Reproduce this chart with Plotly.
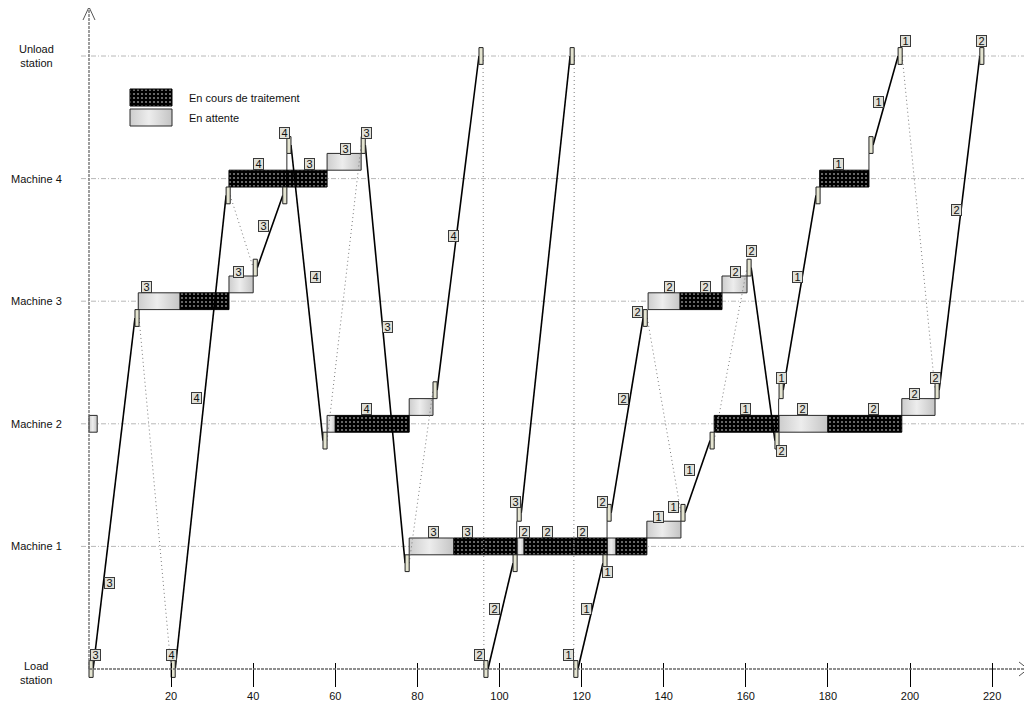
import plotly.graph_objects as go

# station levels: 0 = load, 1..4 = machines, 5 = unload
stations = ["Load<br>station", "Machine 1", "Machine 2", "Machine 3", "Machine 4", "Unload<br>station"]
tick_vals = [20, 40, 60, 80, 100, 120, 140, 160, 180, 200, 220]

# processing operations (black)
proc_job = [3, 4, 3, 4, 3, 2, 1, 2, 1, 1, 2]
proc_lvl = [3, 4, 4, 2, 1, 1, 1, 3, 2, 4, 2]
proc_start = [22.2, 34.1, 48.2, 60.0, 88.9, 106.0, 128.4, 144.0, 152.3, 178.0, 180.0]
proc_end = [34.1, 48.2, 58.0, 78.0, 104.2, 126.2, 135.9, 154.2, 168.0, 190.0, 198.0]

# waiting (grey), row 1 = in front of the machine, row 2 = finished, waiting for the AGV
wait_lvl = [2, 3, 3, 4, 4, 2, 2, 1, 1, 1, 1, 1, 1, 3, 3, 2, 2, 4, 2]
wait_row = [1, 1, 2, 2, 2, 1, 2, 1, 2, 1, 2, 1, 2, 1, 2, 2, 1, 2, 2]
wait_start = [0.0, 12.0, 34.1, 48.2, 58.0, 58.0, 78.0, 78.0, 104.2, 104.3, 126.2, 126.2, 135.9, 136.2, 154.2, 168.0, 168.1, 190.0, 198.0]
wait_end = [2.0, 22.2, 40.0, 48.2, 66.3, 60.0, 83.8, 88.9, 104.2, 106.0, 126.2, 128.4, 144.2, 144.0, 160.3, 168.0, 180.0, 190.0, 206.1]

# AGV moves: job, from, to, start of pick-up, start of drop-off
move_job = [3, 4, 3, 4, 3, 4, 2, 3, 1, 2, 1, 2, 1, 1, 2]
move_from = [0, 0, 3, 4, 4, 2, 0, 1, 0, 1, 1, 3, 2, 4, 2]
move_to = [3, 4, 4, 2, 1, 5, 1, 5, 1, 3, 2, 2, 4, 5, 5]
move_pick = [0.0, 20.0, 40.0, 48.2, 66.3, 83.8, 96.2, 104.3, 118.1, 126.2, 144.2, 160.3, 168.1, 190.0, 206.1]
move_drop = [11.2, 33.4, 47.2, 57.0, 77.0, 95.0, 103.3, 117.2, 125.2, 135.0, 151.3, 167.1, 177.1, 197.1, 217.0]

# job number tags
label_job = [3, 3, 3, 3, 3, 4, 4, 4, 4, 3, 3, 3, 4, 3, 4, 4, 3, 3, 3,
             2, 2, 2, 2, 2, 2, 2, 2, 2, 2, 2, 2, 2, 2, 2, 2, 2, 2, 2,
             1, 1, 1, 1, 1, 1, 1, 1, 1, 1, 1, 1]
label_t = [1.5, 5.1, 13.9, 36.3, 42.6, 20.0, 26.1, 41.4, 47.7, 53.8, 62.6, 67.5, 55.1, 72.6, 67.5, 88.9, 83.8, 92.3, 104.0,
           95.2, 98.7, 106.2, 111.6, 120.1, 125.0, 130.1, 133.7, 141.3, 150.1, 157.6, 161.3, 168.8, 173.7, 191.2, 201.2, 206.3, 211.4, 217.5,
           116.7, 121.3, 126.4, 138.8, 142.5, 146.4, 160.0, 168.8, 172.5, 182.5, 192.4, 198.8]
label_lvl = [0.114, 0.70, 3.116, 3.238, 3.613, 0.114, 2.21, 4.12, 4.372, 4.12, 4.24, 4.372, 3.197, 2.79, 2.12, 3.53, 1.12, 1.12, 1.36,
             0.114, 0.49, 1.12, 1.12, 1.12, 1.36, 2.20, 2.91, 3.116, 3.116, 3.238, 3.41, 1.778, 2.12, 2.12, 2.243, 2.37, 3.744, 5.12,
             0.114, 0.49, 0.79, 1.24, 1.32, 1.62, 2.12, 2.37, 3.197, 4.12, 4.625, 5.12]

H = 0.137  # band height in level units
FONT = "Liberation Sans, Arial, sans-serif"


# page pixel -> data (the figure sits 8px in from the page corner)
def tx(px):
    return (px - 89) / 4.105


def ly(py):
    return (669 - py) / 122.6


def box(x0, x1, y0, y1):
    return [x0, x1, x1, x0, x0, None], [y0, y0, y1, y1, y0, None]


def pick_band(lvl):
    if lvl in (0, 5):
        return lvl - H / 2, lvl + H / 2
    return lvl + 1.5 * H, lvl + 2.5 * H


def drop_band(lvl):
    if lvl in (0, 5):
        return lvl - H / 2, lvl + H / 2
    return lvl - 1.5 * H, lvl - 0.5 * H


fig = go.Figure()

grey_scale = [[0, "#cdcdcd"], [0.45, "#ededed"], [1, "#c4c4c4"]]
pattern = dict(shape=".", fgcolor="white", bgcolor="black", size=4, solidity=0.22)

# waiting boxes
for lvl, row, s, e in zip(wait_lvl, wait_row, wait_start, wait_end):
    y0 = lvl - H / 2 if row == 1 else lvl + H / 2
    if e - s > 0.05:
        xs, ys = box(s, e, y0, y0 + H)
        fig.add_trace(go.Scatter(x=xs[:-1], y=ys[:-1], mode="lines", fill="toself",
                                 fillgradient=dict(type="horizontal", colorscale=grey_scale),
                                 line=dict(color="#2a2a2a", width=1), hoverinfo="skip", showlegend=False))
    else:
        fig.add_trace(go.Scatter(x=[s, s], y=[y0, y0 + H], mode="lines",
                                 line=dict(color="#2a2a2a", width=1), hoverinfo="skip", showlegend=False))

# processing boxes
px_, py_ = [], []
for lvl, s, e in zip(proc_lvl, proc_start, proc_end):
    xs, ys = box(s, e, lvl - H / 2, lvl + H / 2)
    px_ += xs
    py_ += ys
fig.add_trace(go.Scatter(x=px_, y=py_, mode="lines", fill="toself", fillcolor="black", fillpattern=pattern,
                         line=dict(color="black", width=1), hoverinfo="skip", showlegend=False))

# AGV loaded and empty trips
lx, lyy, dx, dy = [], [], [], []
for i in range(len(move_job)):
    pb = pick_band(move_from[i])
    db = drop_band(move_to[i])
    lx += [move_pick[i] + 1, move_drop[i], None]
    lyy += [sum(pb) / 2, sum(db) / 2, None]
    if i + 1 < len(move_job) and move_to[i] != move_from[i + 1]:
        nb = pick_band(move_from[i + 1])
        dx += [move_drop[i] + 1, move_pick[i + 1], None]
        dy += [sum(db) / 2, sum(nb) / 2, None]
fig.add_trace(go.Scatter(x=dx, y=dy, mode="lines", line=dict(color="#7a7a7a", width=1, dash="1px,3px"),
                         hoverinfo="skip", showlegend=False))
fig.add_trace(go.Scatter(x=lx, y=lyy, mode="lines", line=dict(color="black", width=1.6),
                         hoverinfo="skip", showlegend=False))

# pick-up / drop-off markers
sx, sy = [], []
for i in range(len(move_job)):
    for t, band in ((move_pick[i], pick_band(move_from[i])), (move_drop[i], drop_band(move_to[i]))):
        xs, ys = box(t, t + 1, band[0], band[1])
        sx += xs
        sy += ys
fig.add_trace(go.Scatter(x=sx, y=sy, mode="lines", fill="toself", fillcolor="#e4e4d0",
                         line=dict(color="#222", width=1), hoverinfo="skip", showlegend=False))

# legend
xs, ys = box(tx(130), tx(172), ly(106), ly(89))
fig.add_trace(go.Scatter(x=xs[:-1], y=ys[:-1], mode="lines", fill="toself", fillcolor="black", fillpattern=pattern,
                         line=dict(color="black", width=1), hoverinfo="skip", showlegend=False))
xs, ys = box(tx(130), tx(172), ly(126), ly(109))
fig.add_trace(go.Scatter(x=xs[:-1], y=ys[:-1], mode="lines", fill="toself",
                         fillgradient=dict(type="horizontal", colorscale=grey_scale),
                         line=dict(color="#2a2a2a", width=1), hoverinfo="skip", showlegend=False))
for text, py in (("En cours de traitement", 97.5), ("En attente", 117.5)):
    fig.add_annotation(x=tx(187), y=ly(py), text=text, showarrow=False, xanchor="left",
                       font=dict(family=FONT, size=11, color="#111"))

# job tags
for j, t, l in zip(label_job, label_t, label_lvl):
    fig.add_annotation(x=t, y=l, text=str(j), showarrow=False, width=9, height=10,
                       bgcolor="#e0e0d8", bordercolor="#3a3a3a", borderwidth=1, borderpad=0,
                       font=dict(family=FONT, size=11, color="#111"))

# station names
for lvl, name in enumerate(stations):
    fig.add_annotation(x=tx(36), y=lvl - (0.03 if lvl == 0 else 0), text=name, showarrow=False,
                       xanchor="center", align="center", font=dict(family=FONT, size=11, color="#111"))

# grid lines
for lvl in range(1, 6):
    fig.add_shape(type="line", x0=tx(81), x1=tx(1032), y0=lvl, y1=lvl, layer="below",
                  line=dict(color="#b8b8b8", width=1, dash="5px,2px,1px,2px"))

# axes with arrows
axis_line = dict(color="#6a6a6a", width=1.3, dash="3px,1px")
fig.add_shape(type="line", x0=0, x1=tx(1026), y0=0, y1=0, line=axis_line)
fig.add_shape(type="line", x0=0, x1=0, y0=0, y1=ly(8), line=axis_line)
arrow = dict(color="#555", width=1)
fig.add_shape(type="path", path=f"M {tx(1019)} {ly(662)} L {tx(1028)} {ly(669)} L {tx(1019)} {ly(676)}", line=arrow)
fig.add_shape(type="path", path=f"M {tx(83)} {ly(20)} L {tx(89)} {ly(7)} L {tx(95)} {ly(20)}", line=arrow)

fig.update_layout(
    width=1024, height=696, margin=dict(l=0, r=0, t=0, b=0),
    paper_bgcolor="white", plot_bgcolor="white", showlegend=False,
    font=dict(family=FONT, size=11, color="#111"),
    xaxis=dict(range=[tx(8), tx(1032)], showgrid=False, zeroline=False, showline=False,
               tickvals=tick_vals, ticks="outside", ticklen=24, tickwidth=1, tickcolor="black",
               anchor="free", position=(704 - 662) / 696, automargin=False,
               tickfont=dict(family=FONT, size=11, color="#111")),
    yaxis=dict(range=[ly(704), ly(8)], showgrid=False, zeroline=False, showline=False,
               showticklabels=False, ticks="", automargin=False),
)

fig.write_html("out.html")
